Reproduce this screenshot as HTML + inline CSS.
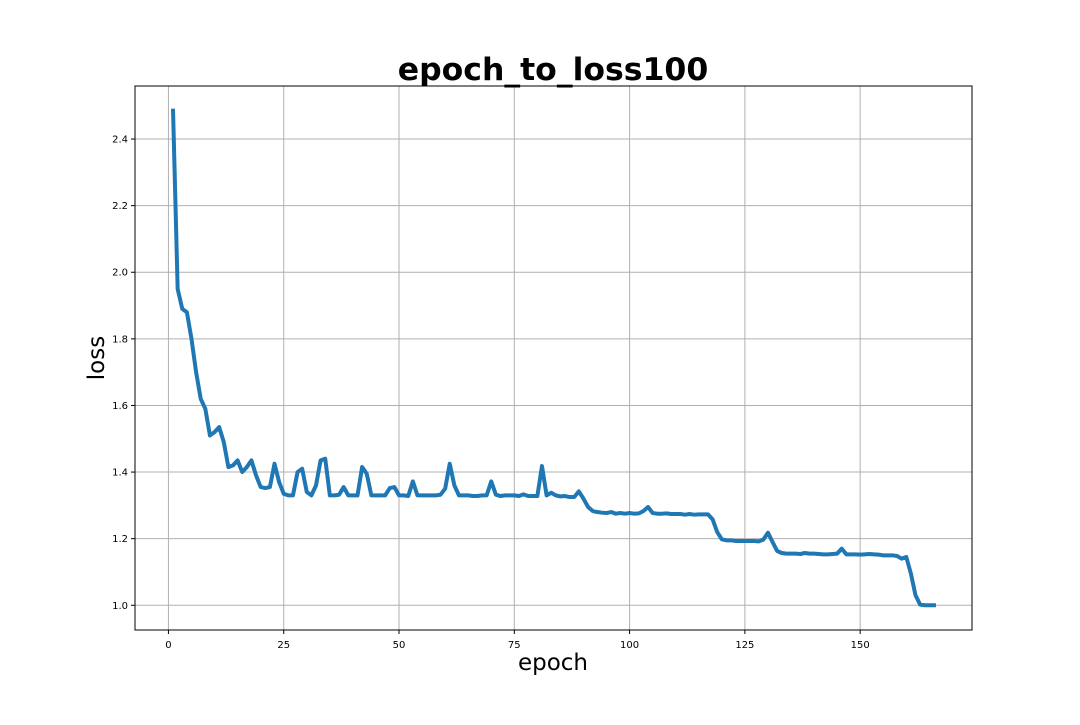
<!DOCTYPE html>
<html><head><meta charset="utf-8"><style>
body{margin:0;background:#fff;}
svg text{font-family:"DejaVu Sans","Liberation Sans",sans-serif;}
</style></head><body>
<svg id="chart" width="1080" height="720">
<rect width="1080" height="720" fill="#fff"/>
<g id="grid"></g>
<g id="ticks"></g>
<path id="line" fill="none" stroke="#1f77b4" stroke-width="4" stroke-linejoin="round" stroke-linecap="square"/>
<rect x="135" y="86" width="837" height="544" fill="none" stroke="#000" stroke-width="1"/>
<text x="553" y="80" text-anchor="middle" font-size="31.5" font-weight="bold">epoch_to_loss100</text>
<text x="553" y="670" text-anchor="middle" font-size="23">epoch</text>
<text transform="translate(104,358) rotate(-90)" text-anchor="middle" font-size="23">loss</text>
</svg>
<script>
const lossValues=[2.485,1.95,1.89,1.88,1.80,1.70,1.62,1.59,1.51,1.52,1.535,1.49,1.415,1.42,1.435,1.40,1.415,1.435,1.39,1.355,
1.352,1.355,1.425,1.37,1.335,1.33,1.33,1.40,1.41,1.34,1.33,1.36,1.435,1.44,1.33,1.33,1.332,1.355,1.33,1.33,
1.33,1.415,1.395,1.33,1.33,1.33,1.33,1.352,1.355,1.33,1.33,1.328,1.372,1.33,1.33,1.33,1.33,1.33,1.332,1.35,
1.425,1.36,1.33,1.33,1.33,1.328,1.328,1.33,1.33,1.372,1.332,1.328,1.33,1.33,1.33,1.328,1.333,1.328,1.328,1.328,
1.418,1.33,1.338,1.33,1.327,1.328,1.325,1.325,1.342,1.32,1.295,1.283,1.28,1.278,1.277,1.28,1.275,1.277,1.275,1.277,
1.275,1.276,1.283,1.295,1.277,1.275,1.275,1.276,1.274,1.274,1.274,1.272,1.274,1.272,1.273,1.273,1.273,1.258,1.22,1.198,
1.195,1.195,1.193,1.193,1.193,1.193,1.193,1.192,1.197,1.218,1.19,1.163,1.157,1.155,1.155,1.155,1.154,1.157,1.155,1.155,
1.154,1.153,1.153,1.154,1.155,1.17,1.153,1.153,1.153,1.152,1.153,1.154,1.153,1.152,1.15,1.15,1.15,1.148,1.14,1.145,
1.095,1.03,1.002,1.0,1.0,1.0];
const xTicks=[0,25,50,75,100,125,150];
const yTicks=[1.0,1.2,1.4,1.6,1.8,2.0,2.2,2.4];
const L=135,R=972,T=86,B=630;
const n=lossValues.length;
const xMin=1-0.05*(n-1),xMax=n+0.05*(n-1);
const yLo=Math.min(...lossValues),yHi=Math.max(...lossValues);
const yMin=yLo-0.05*(yHi-yLo),yMax=yHi+0.05*(yHi-yLo);
const xs=v=>L+(v-xMin)/(xMax-xMin)*(R-L);
const ys=v=>B-(v-yMin)/(yMax-yMin)*(B-T);
const NS='http://www.w3.org/2000/svg';
const grid=document.getElementById('grid'),ticks=document.getElementById('ticks');
function mk(tag,attrs,parent){const e=document.createElementNS(NS,tag);for(const k in attrs)e.setAttribute(k,attrs[k]);parent.appendChild(e);return e;}
xTicks.forEach(t=>{const x=xs(t);
 const g=mk('line',{x1:x,x2:x,y1:T,y2:B,stroke:'#b0b0b0','stroke-width':1},grid);
 
 
 mk('line',{x1:x,x2:x,y1:B,y2:B+4,stroke:'#000'},ticks);
 const tx=mk('text',{x:x,y:B+18,'text-anchor':'middle','font-size':10},ticks);tx.textContent=t;
 
 
});
yTicks.forEach(t=>{const y=ys(t);
 const g=mk('line',{x1:L,x2:R,y1:y,y2:y,stroke:'#b0b0b0','stroke-width':1},grid);
 
 
 mk('line',{x1:L-4,x2:L,y1:y,y2:y,stroke:'#000'},ticks);
 const tx=mk('text',{x:L-7,y:y+3.5,'text-anchor':'end','font-size':10},ticks);tx.textContent=t.toFixed(1);
 
 
});
document.getElementById('line').setAttribute('d',lossValues.map((v,i)=>(i?'L':'M')+xs(i+1).toFixed(2)+','+ys(v).toFixed(2)).join(''));
</script>
</body></html>
